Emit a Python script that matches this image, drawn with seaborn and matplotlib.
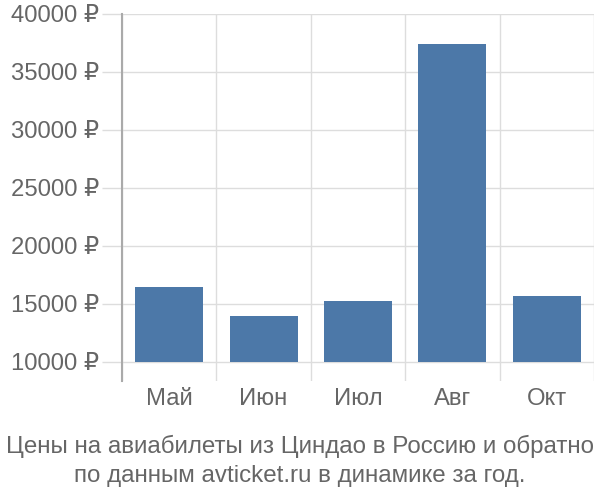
import numpy as np
import pandas as pd
import matplotlib
matplotlib.use("Agg")
import matplotlib.pyplot as plt
import seaborn as sns

months = ["Май", "Июн", "Июл", "Авг", "Окт"]
prices = [16450, 14000, 15250, 37450, 15650]
base = 10000
yticks = [10000, 15000, 20000, 25000, 30000, 35000, 40000]
title = "Цены на авиабилеты из Циндао в Россию и обратно\nпо данным avticket.ru в динамике за год."

sns.set_style("white")
plt.rcParams['font.family'] = ['Liberation Sans', 'DejaVu Sans']

txt = "#666666"
grid = "#dddddd"

df = pd.DataFrame({"month": months, "price": prices})

fig = plt.figure(figsize=(6, 5), dpi=100)
ax = fig.add_axes([122 / 600, 1 - 381 / 500, 472 / 600, 367 / 500])

sns.barplot(data=df, x="month", y="price", color="#4c78a8", saturation=1,
            width=0.72, ax=ax, zorder=3)
# bars start at the 10000 line, not at zero
for p in ax.patches:
    h = p.get_height()
    p.set_y(base)
    p.set_height(h - base)
    p.set_edgecolor("none")

ax.set_ylim(8360, 40000)
ax.set_xlim(-0.5, len(months) - 0.5)
ax.set_yticks(yticks)
ax.set_yticklabels([f"{v} ₽" for v in yticks])
ax.set_xticks(np.arange(len(months)))
ax.set_xticks(np.arange(len(months) + 1) - 0.5, minor=True)
ax.set_xlabel("")
ax.set_ylabel("")

ax.grid(axis="y", color=grid, lw=1, zorder=0)
ax.grid(axis="x", which="minor", color=grid, lw=1, zorder=0)
ax.grid(axis="x", which="major", visible=False)

ax.tick_params(axis="y", length=14.4, color=grid, width=1, pad=2,
               labelsize=17.2, labelcolor=txt, left=True)
ax.tick_params(axis="x", which="major", length=0, pad=5,
               labelsize=17.2, labelcolor=txt)
ax.tick_params(axis="x", which="minor", length=0)

for s in ["top", "right", "bottom"]:
    ax.spines[s].set_visible(False)
ax.spines["left"].set_color("#aaaaaa")
ax.spines["left"].set_linewidth(1.5)

fig.text(0.5, 1 - 461 / 500, title, ha="center", va="center",
         fontsize=17.4, color=txt, linespacing=1.38)

fig.savefig("out.png", dpi=100)
